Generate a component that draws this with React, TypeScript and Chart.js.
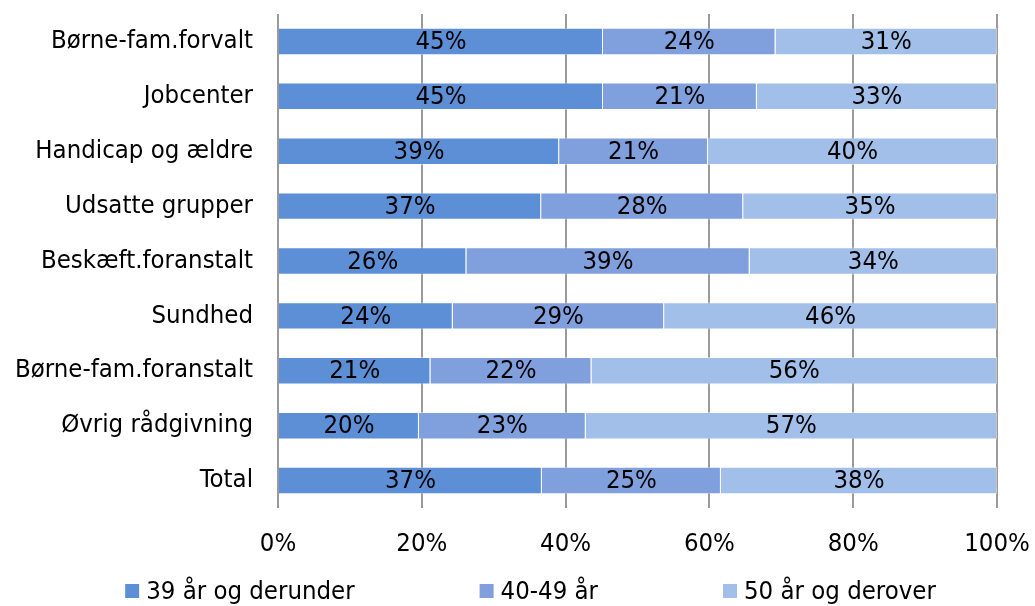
import React, { useEffect, useRef } from "react";
import { Chart, registerables } from "chart.js";

Chart.register(...registerables);

const categories = [
  "Børne-fam.forvalt",
  "Jobcenter",
  "Handicap og ældre",
  "Udsatte grupper",
  "Beskæft.foranstalt",
  "Sundhed",
  "Børne-fam.foranstalt",
  "Øvrig rådgivning",
  "Total",
];

const seriesNames = ["39 år og derunder", "40-49 år", "50 år og derover"];

const under39 = [45.2, 45.2, 39.1, 36.6, 26.2, 24.3, 21.2, 19.6, 36.7];
const age40to49 = [24.0, 21.4, 20.7, 28.1, 39.4, 29.4, 22.4, 23.2, 24.9];
const over50 = [30.8, 33.4, 40.2, 35.3, 34.4, 46.3, 56.4, 57.2, 38.4];

const xTicks = [0, 20, 40, 60, 80, 100];

const colors = ["#5d8fd6", "#809fdd", "#a2bfea"];

const FONT = "'DejaVu Sans Condensed', 'DejaVu Sans', sans-serif";
const FS = 25.5;

const labelPlugin = {
  id: "barLabels",
  afterDatasetsDraw(chart: any) {
    const ctx = chart.ctx;
    ctx.save();
    ctx.font = `${FS}px ${FONT}`;
    ctx.fillStyle = "#000";
    ctx.textAlign = "center";
    ctx.textBaseline = "middle";
    chart.data.datasets.forEach((ds: any, di: number) => {
      const meta = chart.getDatasetMeta(di);
      meta.data.forEach((bar: any, i: number) => {
        const v = ds.data[i];
        const cx = (bar.x + bar.base) / 2;
        ctx.fillText(`${Math.round(v)}%`, cx, bar.y + 1);
      });
    });
    ctx.restore();
  },
};

const legendPlugin = {
  id: "customLegend",
  afterDraw(chart: any) {
    const ctx = chart.ctx;
    ctx.save();
    ctx.font = `${FS}px ${FONT}`;
    ctx.textBaseline = "middle";
    ctx.textAlign = "left";
    const box = 14;
    const gapText = 7;
    const gapItem = 125;
    const items = chart.data.datasets.map((ds: any) => ({
      text: ds.label,
      color: ds.backgroundColor,
      w: box + gapText + ctx.measureText(ds.label).width,
    }));
    const total =
      items.reduce((s: number, it: any) => s + it.w, 0) + gapItem * (items.length - 1);
    let x = chart.width / 2 + 13 - total / 2;
    const y = 591;
    items.forEach((it: any) => {
      ctx.fillStyle = it.color;
      ctx.fillRect(x, y - box / 2, box, box);
      ctx.fillStyle = "#000";
      ctx.fillText(it.text, x + box + gapText, y + 1);
      x += it.w + gapItem;
    });
    ctx.restore();
  },
};

export default function App() {
  const ref = useRef<HTMLCanvasElement | null>(null);

  useEffect(() => {
    if (!ref.current) return;
    const data = [under39, age40to49, over50];
    const chart = new Chart(ref.current, {
      type: "bar",
      data: {
        labels: categories,
        datasets: seriesNames.map((name, i) => ({
          label: name,
          data: data[i],
          backgroundColor: colors[i],
          borderColor: "rgba(255,255,255,0.45)",
          borderWidth: 1,
          categoryPercentage: 1,
          barPercentage: 0.5,
        })),
      },
      options: {
        indexAxis: "y",
        animation: false,
        responsive: true,
        maintainAspectRatio: false,
        layout: { autoPadding: false, padding: { top: 14, bottom: 48, left: 15, right: 38 } },
        plugins: {
          legend: { display: false },
          tooltip: { enabled: false },
        },
        scales: {
          x: {
            stacked: true,
            min: 0,
            max: 100,
            afterBuildTicks: (axis: any) => {
              axis.ticks = xTicks.map((v) => ({ value: v }));
            },
            afterFit: (axis: any) => {
              axis.height = 50;
              axis.paddingLeft = 0;
              axis.paddingRight = 0;
              axis.paddingTop = 0;
              axis.paddingBottom = 0;
            },
            ticks: {
              callback: (v: any) => `${v}%`,
              font: { family: FONT, size: FS },
              color: "#000",
              padding: 21,
              maxRotation: 0,
            },
            grid: {
              color: "#9a9a9a",
              lineWidth: 2,
              drawTicks: false,
            },
            border: { display: false },
          },
          y: {
            stacked: true,
            afterFit: (axis: any) => {
              axis.width = 263;
              axis.paddingTop = 0;
              axis.paddingBottom = 0;
              axis.paddingLeft = 0;
              axis.paddingRight = 0;
            },
            ticks: {
              font: { family: FONT, size: FS },
              color: "#000",
              padding: 25,
            },
            grid: { display: false, drawTicks: false },
            border: { display: false },
          },
        },
      },
      plugins: [labelPlugin, legendPlugin],
    });
    return () => chart.destroy();
  }, []);

  return (
    <div style={{ position: "absolute", left: 0, top: 0, width: 1035, height: 606, background: "#fff" }}>
      <canvas ref={ref} />
    </div>
  );
}
